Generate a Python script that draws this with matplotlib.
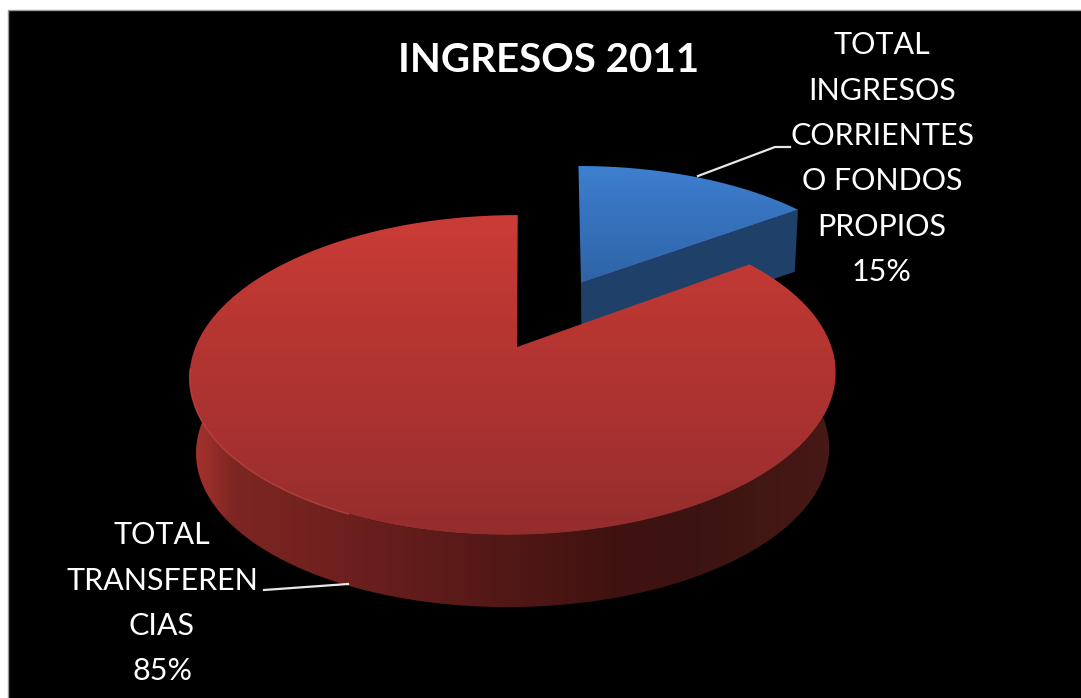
import numpy as np
from matplotlib import pyplot as plt
from matplotlib.colors import LinearSegmentedColormap
from matplotlib.patches import PathPatch, Rectangle
from matplotlib.path import Path

plt.rcParams['font.family'] = ['Lato', 'DejaVu Sans']

title = "INGRESOS 2011"
values = [15, 85]
labels = [["TOTAL", "INGRESOS", "CORRIENTES", "O FONDOS", "PROPIOS", "15%"],
          ["TOTAL", "TRANSFEREN", "CIAS", "85%"]]

W, H = 1081, 698
PERSP = 0.175


def project(t, cx, cy, a, b, skew=0.0):
    # t in degrees clockwise from the back of the pie
    u, v = np.sin(np.radians(t)), np.cos(np.radians(t))
    s = 1 / (1 + PERSP * v)
    return cx + (a * u + skew * v) * s, cy - b * v * s


def gradient(ax, path, colors, extent, vertical=True):
    cmap = LinearSegmentedColormap.from_list("g", colors)
    g = np.linspace(0, 1, 256)
    g = g.reshape(-1, 1) if vertical else g.reshape(1, -1)
    im = ax.imshow(g, cmap=cmap, extent=extent, aspect='auto', origin='upper', zorder=ax.zcount)
    patch = PathPatch(path, transform=ax.transData, fc='none', ec='none')
    ax.add_patch(patch)
    im.set_clip_path(patch)
    ax.zcount += 1


def closed(xs, ys):
    pts = np.column_stack([xs, ys])
    return Path(np.vstack([pts, pts[0]]), closed=True)


fig = plt.figure(figsize=(W / 100, H / 100), dpi=100, facecolor='white')
ax = fig.add_axes([0, 0, 1, 1])
ax.zcount = 3
ax.add_patch(Rectangle((8, 10), W, H, fc='black', ec='#999999', lw=1))

split = 360 * values[0] / sum(values)

# blue slice, pulled out towards the back
bx, by, ba, bb, bskew = 581, 283, 298, 137.5, -3
bd, bscale = 61, 0.985
t = np.linspace(0, split, 60)
x, y = project(t, bx, by, ba, bb, bskew)
gradient(ax, closed(np.r_[bx, x], np.r_[by, y]), ['#3d7fd0', '#2f64a6'], (570, 810, 283, 165))
xe, ye = project(split, bx, by, ba, bb, bskew)
xb, yb = bx + (xe - bx) * bscale, by + bd + (ye - by) * bscale
ax.fill([bx, xe, xb, bx + 0.5], [by, ye, yb, by + bd], color='#1f4069', lw=0, zorder=2.5)

# red slice
rx, ry, ra, rb, rskew = 513.5, 347, 318, 155, 5
apex_x = 517
rd, rscale = 76, 0.98
t = np.linspace(60, 300, 240)
x, y = project(t, rx, ry, ra, rb, rskew)
x2, y2 = project(t, rx, ry + rd, ra * rscale, rb * rscale, rskew)
wall = [(0.0, '#a5322d'), (0.06, '#7d2623'), (0.23, '#6e201e'), (0.48, '#521816'),
        (0.67, '#3e1210'), (0.79, '#3c1411'), (1.0, '#481916')]
gradient(ax, closed(np.r_[x, x2[::-1]], np.r_[y, y2[::-1]]), wall, (195, 835, 620, 350), vertical=False)

t = np.linspace(split, 360, 300)
x, y = project(t, rx, ry, ra, rb, rskew)
gradient(ax, closed(np.r_[apex_x, x], np.r_[ry, y]), ['#cb3c37', '#b83632', '#a83230', '#932d2c'],
         (180, 845, 536, 214))

# soft highlight on the front left rim
t = np.linspace(205, 262, 60)
x, y = project(t, rx, ry, ra, rb, rskew)
ax.plot(x, y, color='#d9594f', lw=1.0, alpha=0.55, zorder=ax.zcount)

# leader lines
ax.plot([698, 775, 790], [176, 147, 147], color='#e8e8e8', lw=1.6, zorder=ax.zcount)
ax.plot([264, 348], [590, 584], color='#e8e8e8', lw=1.6, zorder=ax.zcount)

ax.text(549, 61, title, color='white', fontsize=29, fontweight='bold', ha='center', va='center',
        zorder=ax.zcount)

for line, yy in zip(labels[0], np.arange(6) * 45.3 + 45.5):
    ax.text(882, yy, line, color='white', fontsize=22, ha='center', va='center', zorder=ax.zcount)
for line, yy in zip(labels[1], np.arange(4) * 45.3 + 535.5):
    ax.text(162, yy, line, color='white', fontsize=22, ha='center', va='center', zorder=ax.zcount)

ax.set_xlim(0, W)
ax.set_ylim(H, 0)
ax.axis('off')
fig.savefig('out.png', dpi=100, facecolor='white')
